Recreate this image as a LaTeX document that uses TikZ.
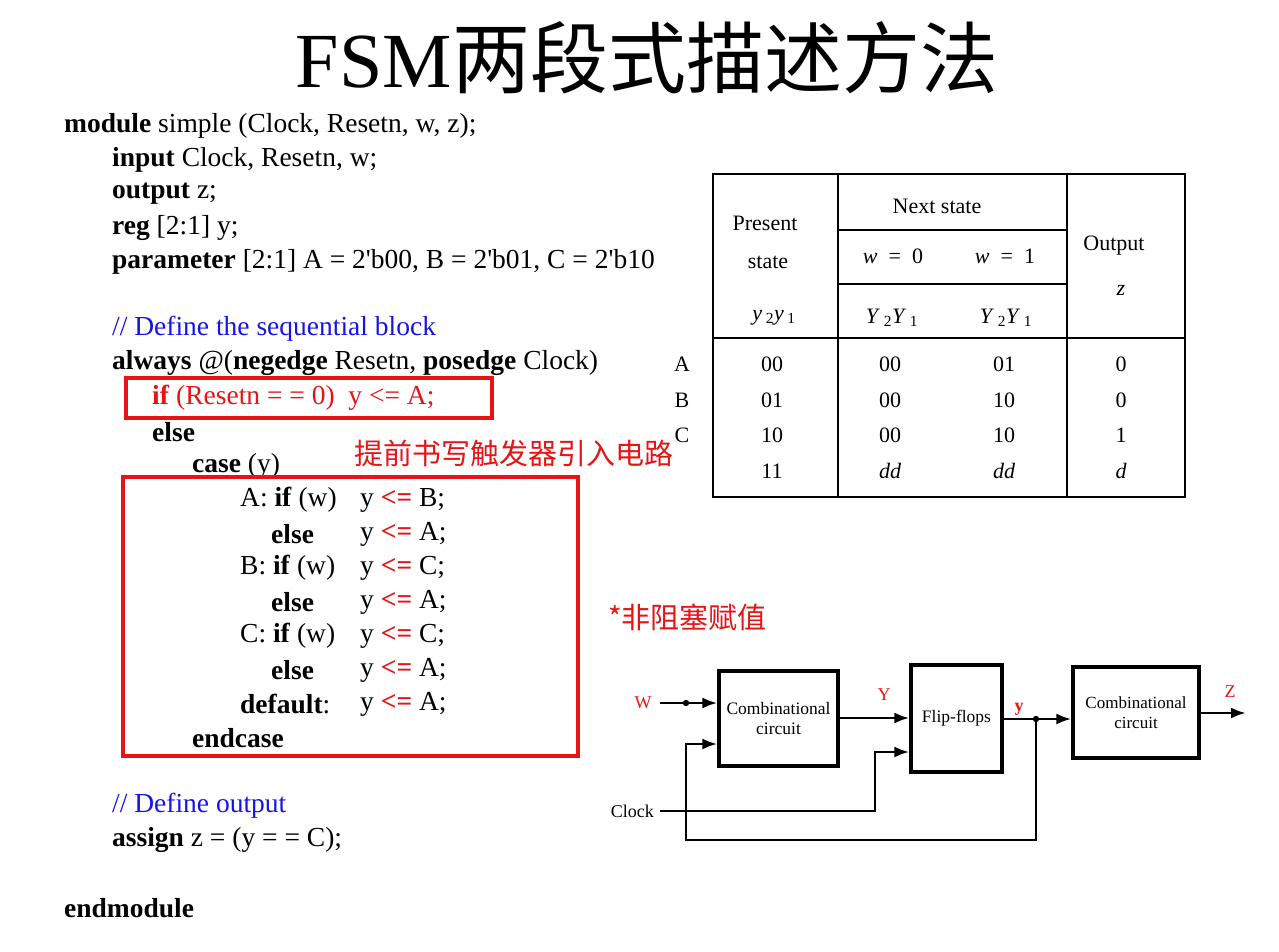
\documentclass[tikz,border=0pt]{standalone}
\usepackage{fontspec}
\setmainfont{Liberation Serif}
\newfontfamily\cjk{Noto Sans CJK SC}
\usetikzlibrary{arrows.meta}
\definecolor{cblue}{RGB}{20,20,230}
\definecolor{cred}{RGB}{230,20,20}
\newcommand{\q}{\textquotesingle}
\begin{document}
\begin{tikzpicture}[x=1pt,y=-1pt,
  code/.style={anchor=west,inner sep=0pt,font=\fontsize{27.5}{30}\selectfont},
  tab/.style={inner sep=0pt,font=\fontsize{22}{24}\selectfont},
  blk/.style={draw,line width=3.2pt,inner sep=0pt},
  wire/.style={line width=2.8pt},
  arr/.style={wire,-{Latex[length=15pt,width=11pt]}},
  lbl/.style={inner sep=0pt,font=\fontsize{18}{20}\selectfont}]
\useasboundingbox (0,0) rectangle (1279,952);
\node (title) at (647,58) {\fontsize{78}{82}\selectfont FSM\cjk 两段式描述方法};
% code
\node[code] (c1) at (64,126) {\textbf{module} simple (Clock, Resetn, w, z);};
\node[code] (c2) at (112,160) {\textbf{input} Clock, Resetn, w;};
\node[code] (c3) at (112,194) {\textbf{output} z;};
\node[code] (c4) at (112,228) {\textbf{reg} [2:1] y;};
\node[code] (c5) at (112,262) {\textbf{parameter} [2:1] A = 2\q b00, B = 2\q b01, C = 2\q b10};
\node[code,text=cblue] (c6) at (112,329) {// Define the sequential block};
\node[code] (c7) at (112,363) {\textbf{always} @(\textbf{negedge} Resetn, \textbf{posedge} Clock)};
\node[code,text=cred] (c8) at (152,398) {\textbf{if} (Resetn = = 0)\enspace y <= A;};
\node[code] (c9) at (152,432) {\textbf{else}};
\node[code] (c10) at (192,466) {\textbf{case} (y)};
\node[code] (c11) at (240,500) {A: \textbf{if} (w)};
\node[code] (c12) at (271,534) {\textbf{else}};
\node[code] (c13) at (240,568) {B: \textbf{if} (w)};
\node[code] (c14) at (271,602) {\textbf{else}};
\node[code] (c15) at (240,636) {C: \textbf{if} (w)};
\node[code] (c16) at (271,670) {\textbf{else}};
\node[code] (c17) at (240,704) {\textbf{default}:};
\node[code] (r11) at (360,500) {y \textcolor{cred}{\textbf{<=}} B;};
\node[code] (r12) at (360,534) {y \textcolor{cred}{\textbf{<=}} A;};
\node[code] (r13) at (360,568) {y \textcolor{cred}{\textbf{<=}} C;};
\node[code] (r14) at (360,602) {y \textcolor{cred}{\textbf{<=}} A;};
\node[code] (r15) at (360,636) {y \textcolor{cred}{\textbf{<=}} C;};
\node[code] (r16) at (360,670) {y \textcolor{cred}{\textbf{<=}} A;};
\node[code] (r17) at (360,704) {y \textcolor{cred}{\textbf{<=}} A;};
\node[code] (c18) at (192,738) {\textbf{endcase}};
\node[code,text=cblue] (c19) at (112,806) {// Define output};
\node[code] (c20) at (112,840) {\textbf{assign} z = (y = = C);};
\node[code] (c21) at (64,908) {\textbf{endmodule}};
\draw[cred,line width=3.2pt] (126,378) rectangle (492,418);
\draw[cred,line width=3.2pt] (123,477) rectangle (578,756);
\node[code,text=cred,font=\fontsize{29}{31}\selectfont] (n1) at (354,453) {\cjk 提前书写触发器引入电路};
\node[code,text=cred,font=\fontsize{29}{31}\selectfont] (n2) at (608,617) {\cjk *非阻塞赋值};
% table
\draw[line width=2.2pt] (713,174) rectangle (1185,497);
\draw[line width=2.2pt] (838,174) -- (838,497) (1067,174) -- (1067,497) (713,338) -- (1185,338);
\draw[line width=1.8pt] (838,230) -- (1067,230) (838,284) -- (1067,284);
\node[tab] (h1) at (765,223) {Present};
\node[tab] (h2) at (768,262) {state};
\node[tab] (h3) at (774,318) {\textit{y}\,\textsubscript{2}\textit{y}\,\textsubscript{1}};
\node[tab] (h4) at (937,206) {Next state};
\node[tab] (h5) at (893,256) {\textit{w}\ \ =\ \ 0};
\node[tab] (h6) at (1005,256) {\textit{w}\ \ =\ \ 1};
\node[tab] (h7) at (892,318) {\textit{Y}\,\textsubscript{2}\textit{Y}\,\textsubscript{1}};
\node[tab] (h8) at (1006,318) {\textit{Y}\,\textsubscript{2}\textit{Y}\,\textsubscript{1}};
\node[tab] (h9) at (1114,246) {Output};
\node[tab] (h10) at (1121,290) {\textit{z}};
\foreach \r/\y/\s/\a/\b/\o in {A/364/00/00/01/0, B/400/01/00/10/0, C/435/10/00/10/1}{
  \node[tab] at (682,\y) {\r};
  \node[tab] at (772,\y) {\s};
  \node[tab] at (890,\y) {\a};
  \node[tab] at (1004,\y) {\b};
  \node[tab] at (1121,\y) {\o};
}
\node[tab] (r4a) at (772,471) {11};
\node[tab] (r4b) at (890,471) {\itshape dd};
\node[tab] (r4c) at (1004,471) {\itshape dd};
\node[tab] (r4d) at (1121,471) {\itshape d};
% circuit
\node[blk,minimum width=119pt,minimum height=95pt,font=\fontsize{17.5}{20}\selectfont,align=center] (cc1) at (778.5,718.5) {Combinational\\circuit};
\node[blk,minimum width=91pt,minimum height=107pt,font=\fontsize{17.5}{20}\selectfont] (ff) at (956.5,718.5) {Flip-flops};
\node[blk,minimum width=126pt,minimum height=91pt,font=\fontsize{17}{20}\selectfont,align=center] (cc2) at (1136,712.5) {Combinational\\circuit};
\node[lbl,text=cred] (lw) at (643,703) {W};
\node[lbl,text=cred] (lY) at (884,695) {Y};
\node[lbl,text=cred,font=\bfseries\fontsize{18}{20}\selectfont] (ly) at (1019,709) {y};
\node[lbl,text=cred] (lZ) at (1230,692) {Z};
\node[lbl,anchor=east] (lclk) at (654,811) {Clock};
\coordinate (win) at (660,703);
\coordinate (wd) at (686,703);
\coordinate (yd) at (1036,719);
\coordinate (zout) at (1246,713);
\draw[arr] (win) -- (cc1.west |- win);
\fill (wd) circle (3.2pt);
\draw[arr] (cc1.east |- 0,718) -- (ff.west |- 0,718);
\draw[arr] (ff.east |- yd) -- (cc2.west |- yd);
\fill (yd) circle (3.2pt);
\draw[arr] (cc2.east |- zout) -- (zout);
\draw[arr] (660,811) -- (875,811) -- (875,752) -- (ff.west |- 0,752);
\draw[arr] (yd) -- (1036,840) -- (686,840) -- (686,744) -- (cc1.west |- 0,744);
\end{tikzpicture}
\end{document}
